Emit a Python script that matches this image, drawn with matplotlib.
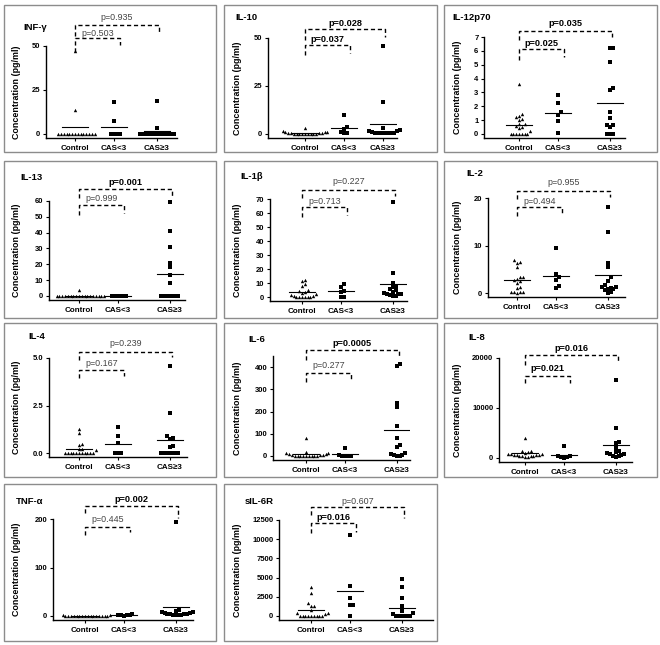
import numpy as np
import matplotlib
matplotlib.use("Agg")
import matplotlib.pyplot as plt
from matplotlib.patches import Rectangle
from matplotlib.transforms import blended_transform_factory

plt.rcParams['font.family'] = ['Liberation Sans', 'DejaVu Sans']

# data (pg/ml)
groups = ["Control", "CAS<3", "CAS≥3"]

ifn_ctrl = [47.4, 13.8, 0, 0, 0, 0, 0, 0, 0, 0, 0, 0, 0, 0, 0, 0]
ifn_lt3 = [17.9, 7.5, 0, 0, 0, 0]
ifn_ge3 = [18.5, 3.4, 0, 0, 0, 0, 0, 0, 0, 0, 0, 0, 0, 0, 0]

il10_ctrl = [3.3, 1.5, 1.2, 1.0, 0.8, 0.6, 0.5, 0.4, 0.3, 0.2, 0.2, 0.1, 0.1, 0, 0, 0, 0, 0]
il10_lt3 = [9.9, 3.8, 2.4, 0.8, 0.3, 0.3]
il10_ge3 = [46.0, 16.6, 3.0, 2.2, 1.8, 1.6, 1.3, 0.6, 0.6, 0.6, 0.6, 0.6, 0.6, 0.6, 0.6]

il12_ctrl = [3.6, 1.45, 1.3, 1.2, 1.1, 1.0, 0.75, 0.7, 0.6, 0.5, 0.4, 0.25, 0, 0, 0, 0, 0, 0, 0]
il12_lt3 = [2.78, 2.22, 1.57, 1.38, 0.92, 0.05]
il12_ge3 = [6.23, 6.23, 5.19, 3.31, 3.19, 1.57, 1.16, 0.68, 0.68, 0.53, 0, 0, 0]

il13_ctrl = [3.8, 0, 0, 0, 0, 0, 0, 0, 0, 0, 0, 0, 0, 0, 0, 0, 0, 0, 0]
il13_lt3 = [0, 0, 0, 0, 0, 0]
il13_ge3 = [59.3, 41.1, 31.0, 21.0, 18.4, 13.2, 8.0, 0, 0, 0, 0, 0, 0, 0]

il1b_ctrl = [12.5, 11.5, 9.0, 8.0, 4.8, 4.0, 3.5, 3.0, 2.0, 1.5, 1.0, 0.5, 0, 0, 0, 0, 0, 0]
il1b_lt3 = [9.0, 7.5, 4.0, 3.6, 0.3, 0.0]
il1b_ge3 = [67.6, 16.8, 10.0, 7.5, 7.0, 6.0, 4.8, 3.5, 3.0, 2.5, 2.0, 1.8, 1.5, 1.0, 0.8]

il2_ctrl = [6.9, 6.5, 6.3, 5.5, 3.4, 3.3, 3.0, 2.8, 2.6, 2.1, 1.2, 1.0, 0.3, 0.2, 0.2, 0.2, 0.1]
il2_lt3 = [9.4, 3.9, 3.3, 2.8, 1.4, 1.1]
il2_ge3 = [18.2, 12.8, 6.4, 5.5, 3.3, 2.6, 1.6, 1.3, 1.2, 1.1, 0.9, 0.8, 0.6, 0.2, 0.1]

il4_ctrl = [1.28, 1.06, 0.48, 0.44, 0.21, 0.2, 0.15, 0, 0, 0, 0, 0, 0, 0, 0, 0, 0, 0]
il4_lt3 = [1.37, 0.87, 0.53, 0, 0, 0]
il4_ge3 = [4.6, 2.13, 0.92, 0.8, 0.76, 0.35, 0.3, 0, 0, 0, 0, 0, 0, 0]

il6_ctrl = [80, 20, 15, 12, 10, 8, 6, 5, 3, 2, 0, 0, 0, 0, 0, 0, 0, 0]
il6_lt3 = [37.7, 3, 2, 1, 0, 0]
il6_ge3 = [412, 405, 238, 220, 136, 80, 50, 39, 12, 8, 5, 4, 2, 0]

il8_ctrl = [4000, 1500, 1400, 1200, 1000, 900, 850, 800, 700, 650, 600, 550, 500, 450, 400, 350, 300, 250]
il8_lt3 = [2500, 500, 400, 300, 200, 100]
il8_ge3 = [15600, 5940, 3300, 3000, 2050, 1320, 1200, 1000, 860, 730, 600, 500, 400, 300]

tnf_ctrl = [2.0, 1.5, 1.0, 1.0, 0.8, 0.5, 0.5, 0.3, 0.2, 0.1, 0, 0, 0, 0, 0, 0, 0, 0]
tnf_lt3 = [4.0, 2.5, 2.0, 2.0, 1.5, 1.0]
tnf_ge3 = [194, 12, 10, 9, 8, 7, 6, 5, 5, 4, 4, 3, 3, 3, 2]

sil6r_ctrl = [3820, 3040, 1650, 1350, 1300, 800, 450, 350, 200, 0, 0, 0, 0, 0, 0, 0, 0, 0]
sil6r_lt3 = [10550, 3900, 2300, 1430, 1430, 0]
sil6r_ge3 = [4820, 3820, 2300, 1300, 650, 350, 260, 0, 0, 0, 0, 0, 0]

names = ["INF-γ", "IL-10", "IL-12p70", "IL-13", "IL-1β", "IL-2",
         "IL-4", "IL-6", "IL-8", "TNF-α", "sIL-6R"]
values = [(ifn_ctrl, ifn_lt3, ifn_ge3), (il10_ctrl, il10_lt3, il10_ge3),
          (il12_ctrl, il12_lt3, il12_ge3), (il13_ctrl, il13_lt3, il13_ge3),
          (il1b_ctrl, il1b_lt3, il1b_ge3), (il2_ctrl, il2_lt3, il2_ge3),
          (il4_ctrl, il4_lt3, il4_ge3), (il6_ctrl, il6_lt3, il6_ge3),
          (il8_ctrl, il8_lt3, il8_ge3), (tnf_ctrl, tnf_lt3, tnf_ge3),
          (sil6r_ctrl, sil6r_lt3, sil6r_ge3)]

# p-values: control vs CAS>=3 (outer), control vs CAS<3 (inner)
p_outer = ["p=0.935", "p=0.028", "p=0.035", "p=0.001", "p=0.227", "p=0.955",
           "p=0.239", "p=0.0005", "p=0.016", "p=0.002", "p=0.607"]
p_inner = ["p=0.503", "p=0.037", "p=0.025", "p=0.999", "p=0.713", "p=0.494",
           "p=0.167", "p=0.277", "p=0.021", "p=0.445", "p=0.016"]
sig_outer = [False, True, True, True, False, False, False, True, True, True, False]
sig_inner = [False, True, True, False, False, False, False, False, True, False, True]

y_ticks = [[0, 25, 50], [0, 25, 50], [0, 1, 2, 3, 4, 5, 6, 7],
           [0, 10, 20, 30, 40, 50, 60], [0, 10, 20, 30, 40, 50, 60, 70],
           [0, 10, 20], [0, 2.5, 5.0], [0, 100, 200, 300, 400],
           [0, 10000, 20000], [0, 100, 200], [0, 2500, 5000, 7500, 10000, 12500]]
y_tick_labels = [["0", "25", "50"], ["0", "25", "50"], [str(i) for i in range(8)],
                 ["0", "10", "20", "30", "40", "50", "60"],
                 ["0", "10", "20", "30", "40", "50", "60", "70"],
                 ["0", "10", "20"], ["0.0", "2.5", "5.0"],
                 ["0", "100", "200", "300", "400"], ["0", "10000", "20000"],
                 ["0", "100", "200"], ["0", "2500", "5000", "7500", "10000", "12500"]]
y_top = [50, 50, 7, 60, 70, 20, 5.0, 450, 20000, 200, 12500]

# layout in pixels: box col, row, axis left, top, x-axis y, right, control x, 3rd group pos, title x, y
layout = [
    (0, 0, 46, 46, 138, 177, 75, 2.1, 23, 28),
    (1, 0, 268, 38, 138, 397, 305, 2.0, 235, 17),
    (2, 0, 484, 37, 138, 625, 519, 2.33, 452, 17),
    (0, 1, 49, 201, 300, 185, 79, 2.33, 20, 178),
    (1, 1, 270, 199, 301, 407, 302, 2.33, 240, 177),
    (2, 1, 488, 198, 297, 625, 517, 2.33, 466, 173),
    (0, 2, 49, 358, 457, 187, 79, 2.33, 28, 337),
    (1, 2, 273, 356, 460, 410, 306, 2.33, 248, 339),
    (2, 2, 499, 358, 462, 632, 525, 2.33, 468, 338),
    (0, 3, 53, 519, 620, 193, 85, 2.33, 16, 501),
    (1, 3, 279, 520, 620, 433, 311, 2.33, 245, 501),
]
# bracket pixels: outer top, left leg end, right leg end, inner top, left, right, outer text y, inner text y
brackets = [
    (25, 36, 33, 38, 52, 45, 18, 33),
    (29, 40, 37, 45, 55, 53, 23, 39),
    (31, 40, 37, 49, 60, 57, 24, 43),
    (189, 198, 196, 205, 215, 213, 183, 199),
    (190, 198, 196, 207, 217, 215, 182, 202),
    (191, 199, 197, 207, 216, 213, 183, 201),
    (352, 360, 357, 370, 378, 376, 343, 363),
    (350, 360, 357, 373, 382, 380, 343, 366),
    (355, 365, 363, 376, 383, 383, 348, 369),
    (506, 513, 518, 527, 535, 532, 500, 520),
    (507, 515, 518, 523, 533, 532, 501, 518),
]
box_cols = [(4, 216), (224, 437), (444, 657)]
box_rows = [(5, 152), (161, 318), (323, 477), (484, 641)]

W, H = 660, 645
UNIT = 39.0
fig = plt.figure(figsize=(6.6, 6.45), dpi=100)


def fx(px):
    return px / W


def fy(py):
    return 1 - py / H


def swarm(vals, ppu, dx=2.8, dy=3.6):
    # simple beeswarm in pixel space, returns x offsets in data units
    vals = np.asarray(vals, float)
    ypx = vals * ppu
    offs = np.zeros(len(vals))
    placed = []
    for i in np.argsort(vals, kind='stable'):
        for k in range(60):
            m = (k + 1) // 2
            cand = m * dx * (1 if k % 2 else -1)
            if all(abs(cand - px) >= dx - 1e-9 or abs(ypx[i] - py) >= dy for px, py in placed):
                break
        placed.append((cand, ypx[i]))
        offs[i] = cand / UNIT
    return offs


for i in range(len(names)):
    col, row, left, top, bottom, right, ctrl_px, pos3, tx, ty = layout[i]
    bx0, bx1 = box_cols[col]
    by0, by1 = box_rows[row]
    fig.add_artist(Rectangle((fx(bx0), fy(by1)), (bx1 - bx0) / W, (by1 - by0) / H,
                             transform=fig.transFigure, fill=False, ec='#8c8c8c', lw=1.0))

    ax = fig.add_axes([fx(left), fy(bottom), (right - left) / W, (bottom - top) / H])
    ytop = y_top[i]
    ymin = -4.0 * ytop / (bottom - top - 4.0)
    ax.set_ylim(ymin, ytop)
    ax.set_xlim((left - ctrl_px) / UNIT, (right - ctrl_px) / UNIT)
    ppu = (bottom - top) / (ytop - ymin)

    xs = [0, 1, pos3]
    for g in range(3):
        vals = values[i][g]
        offs = swarm(vals, ppu)
        marker = '^' if g == 0 else 's'
        ax.scatter(xs[g] + offs, vals, marker=marker, s=6 if g else 6, color='k',
                   linewidths=0, zorder=3, clip_on=False)
        m = np.mean(vals)
        ax.plot([xs[g] - 0.34, xs[g] + 0.34], [m, m], color='k', lw=0.8, zorder=2)

    for s in ['top', 'right']:
        ax.spines[s].set_visible(False)
    for s in ['left', 'bottom']:
        ax.spines[s].set_linewidth(1.0)
    ax.set_xticks(xs)
    ax.set_xticklabels(groups, fontsize=5.8, fontweight='bold')
    ax.set_yticks(y_ticks[i])
    ax.set_yticklabels(y_tick_labels[i], fontsize=5.5, fontweight='bold')
    ax.tick_params(length=2.5, width=0.8, pad=1.5)
    ax.tick_params(axis='x', pad=2.5)

    # significance brackets
    ot, ol, orr, it, il, ir, oty, ity = brackets[i]
    trans = blended_transform_factory(ax.transData, fig.transFigure)
    x2 = pos3 + 0.05
    x1 = 1.15
    ax.plot([0, 0, x2, x2], [fy(ol), fy(ot), fy(ot), fy(orr)], transform=trans,
            clip_on=False, ls=(0, (3, 2)), lw=1.0, color='k')
    ax.plot([0, 0, x1, x1], [fy(il), fy(it), fy(it), fy(ir)], transform=trans,
            clip_on=False, ls=(0, (3, 2)), lw=1.0, color='k')
    ax.text(x2 / 2, fy(oty), p_outer[i], transform=trans, ha='center', va='center',
            fontsize=6.6 if sig_outer[i] else 6.4,
            fontweight='bold' if sig_outer[i] else 'normal',
            color='k' if sig_outer[i] else '#444444')
    ax.text(x1 / 2, fy(ity), p_inner[i], transform=trans, ha='center', va='center',
            fontsize=6.6 if sig_inner[i] else 6.4,
            fontweight='bold' if sig_inner[i] else 'normal',
            color='k' if sig_inner[i] else '#444444')

    fig.text(fx(tx), fy(ty), names[i], ha='left', va='center', fontsize=6.8, fontweight='bold')
    fig.text(fx(bx0 + 13), fy((top + bottom) / 2), "Concentration (pg/ml)", rotation=90,
             ha='center', va='center', fontsize=6.4, fontweight='bold')

fig.savefig('out.png', dpi=100)
